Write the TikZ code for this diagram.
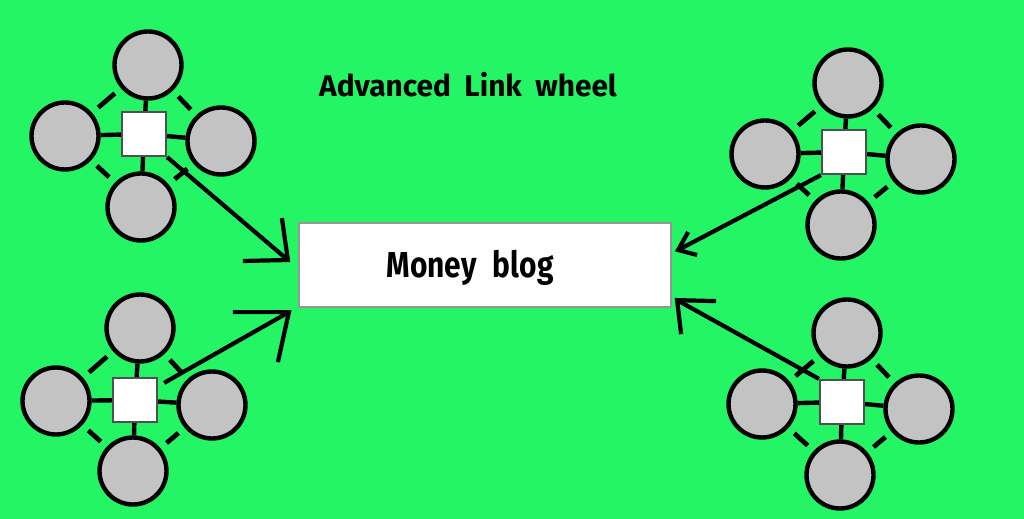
\documentclass[tikz,border=0pt]{standalone}
\usepackage{graphicx}
\usepackage{fontspec}
\newfontfamily\labelfont{Fira Sans}
\usetikzlibrary{arrows.meta}
\definecolor{bggreen}{RGB}{36,245,100}
\definecolor{nodegray}{RGB}{195,195,195}
\definecolor{boxedge}{RGB}{150,150,150}
\definecolor{hubedge}{RGB}{80,80,80}

\newcommand{\linkwheel}[6]{%
  \node[hub] (#1sq) at (#2) {};
  \node[site] (#1t) at (#3) {};
  \node[site] (#1l) at (#4) {};
  \node[site] (#1r) at (#5) {};
  \node[site] (#1b) at (#6) {};
  \draw[spoke] (#1sq) -- (#1t);
  \draw[spoke] (#1sq) -- (#1l);
  \draw[spoke] (#1sq) -- (#1r);
  \draw[spoke] (#1sq) -- (#1b);
  \draw[rim] (#1t) -- (#1l);
  \draw[rim] (#1l) -- (#1b);
  \draw[rim] (#1b) -- (#1r);
  \draw[rim] (#1r) -- (#1t);
}

\begin{document}
\begin{tikzpicture}[x={(0.02cm,0)}, y={(0,-0.02cm)},
  site/.style={circle, draw=black, line width=2.5pt, fill=nodegray, minimum size=1.34cm, inner sep=0pt},
  hub/.style={rectangle, draw=hubedge, line width=1.3pt, fill=white, minimum size=0.88cm, inner sep=0pt},
  spoke/.style={line width=2.5pt},
  rim/.style={line width=2.7pt, shorten >=0.16cm, shorten <=0.16cm},
  link/.style={line width=2.4pt, line join=miter},
  blogbox/.style={rectangle, draw=boxedge, line width=1.3pt, fill=white, minimum width=7.44cm, minimum height=1.68cm, inner sep=0pt},
  caption/.style={font=\labelfont\bfseries, text=black, inner sep=0pt, anchor=base}]
  \fill[bggreen] (0,0) rectangle (1024,519);
  \useasboundingbox (0,0) rectangle (1024,519);

  \node[caption, font=\labelfont\bfseries\fontsize{17}{20}\selectfont] (title) at (468,97) {Advanced\hspace{0.45em}Link\hspace{0.45em}wheel};

  \node[blogbox] (blog) at (485,265) {};
  \node[caption, font=\labelfont\bfseries\fontsize{20.5}{24}\selectfont] (blogtext) at (470,278) {\scalebox{0.83}[1]{Money\hspace{0.55em}blog}};

  \linkwheel{tl}{144,134}{148,65}{65,136}{221,141}{141,207}
  \linkwheel{bl}{135,400}{140,328}{56,401}{212,405}{133,471}
  \linkwheel{tr}{844,152}{848,83}{765,154}{921,159}{841,225}
  \linkwheel{br}{842,402}{847,333}{762,404}{919,409}{840,475}

  % arrow tips
  \coordinate (tltip) at ([shift={(-10,-5)}]blog.west);
  \coordinate (bltip) at ([shift={(-9,4)}]blog.south west);
  \coordinate (trtip) at ([shift={(6,-15)}]blog.east);
  \coordinate (brtip) at ([shift={(5,-8)}]blog.south east);

  \draw[link] (tlsq.south east) -- (tltip);
  \draw[link] ([shift={(-6,-42)}]tltip) -- (tltip) -- ([shift={(-45,1)}]tltip);

  \draw[link] ([shift={(6,6)}]blsq.north east) -- (bltip);
  \draw[link] ([shift={(-56,0)}]bltip) -- (bltip) -- ([shift={(-11,50)}]bltip);

  \draw[link] (trsq.south west) -- (trtip);
  \draw[link] ([shift={(10,-18)}]trtip) -- (trtip) -- ([shift={(19,5)}]trtip);

  \draw[link] (brsq.north west) -- (brtip);
  \draw[link] ([shift={(39,1)}]brtip) -- (brtip) -- ([shift={(4,34)}]brtip);
\end{tikzpicture}
\end{document}
